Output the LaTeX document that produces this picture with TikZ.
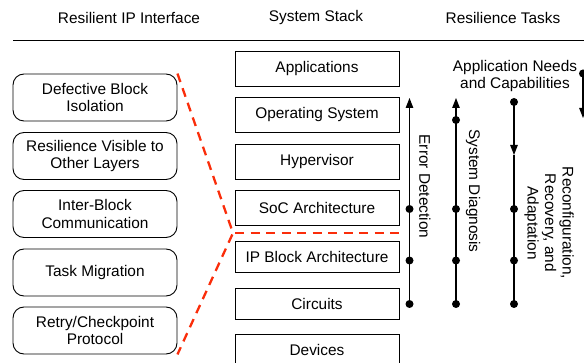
\documentclass[tikz,border=0pt]{standalone}
\usepackage{fontspec}
\setmainfont{Liberation Sans}
\usetikzlibrary{arrows.meta}
\definecolor{cutred}{RGB}{250,45,10}
\tikzset{
  every node/.style={font=\fontsize{15.4}{17.5}\selectfont, inner sep=0pt},
  heading/.style={anchor=center},
  ifbox/.style={draw, rounded corners=11pt, minimum width=164pt, minimum height=47pt,
    align=center, line width=0.9pt},
  layer/.style={draw, minimum width=164pt, line width=0.9pt},
  dot/.style={circle, fill, inner sep=0pt, minimum size=8pt},
  task/.style={line width=1.1pt},
  taskarrow/.style={task, -{Triangle[length=10pt, width=7.5pt]}},
  cut/.style={draw=cutred, line width=2.3pt, dash pattern=on 9pt off 6.5pt},
  tasklabel/.style={rotate=-90, align=center}
}
\begin{document}
\begin{tikzpicture}[x=1pt, y=-1pt]
  \useasboundingbox (0,0) rectangle (584,363);

  % column headings and rule
  \node[heading] (h1) at (129,18) {Resilient IP Interface};
  \node[heading] (h2) at (316,18) {System Stack};
  \node[heading] (h3) at (503,18) {Resilience Tasks};
  \coordinate (ruleL) at (13,40);
  \coordinate (ruleR) at (584,40);
  \draw[line width=0.9pt] (ruleL) -- (ruleR);

  % resilient IP interface features
  \node[ifbox] (if1) at (95,97.5)  {Defective Block\\Isolation};
  \node[ifbox] (if2) at (95,156)   {Resilience Visible to\\Other Layers};
  \node[ifbox] (if3) at (95,214)   {Inter-Block\\Communication};
  \node[ifbox] (if4) at (95,272.5) {Task Migration};
  \node[ifbox] (if5) at (95,330.5) {Retry/Checkpoint\\Protocol};

  % system stack
  \node[layer, minimum height=35pt] (apps) at (317,68.5)  {Applications};
  \node[layer, minimum height=35pt] (os)   at (317,115)   {Operating System};
  \node[layer, minimum height=35pt] (hyp)  at (317,161.5) {Hypervisor};
  \node[layer, minimum height=35pt] (soc)  at (317,208)   {SoC Architecture};
  \node[layer, minimum height=31pt] (ip)   at (317,256.5) {IP Block Architecture};
  \node[layer, minimum height=31pt] (circ) at (317,303.5) {Circuits};
  \node[layer, minimum height=31pt] (dev)  at (317,349.5) {Devices};

  % boundary of the IP block level
  \coordinate (kink) at (233,233);
  \coordinate (cutR) at (399,233);
  \draw[cut] (if1.north east) -- (kink) -- (if5.south east);
  \draw[cut] (235,233) -- (cutR);

  % error detection
  \node[dot] (e1) at (409.5,209) {};
  \node[dot] (e2) at (409.5,260.5) {};
  \node[dot] (e3) at (409.5,304) {};
  \coordinate (etip) at (409.5,98);
  \draw[taskarrow] (e3.center) -- (etip);
  \node[tasklabel] (elab) at (425,186.5) {Error Detection};

  % system diagnosis
  \node[dot] (s0) at (456,120) {};
  \node[dot] (s1) at (456,209) {};
  \node[dot] (s2) at (456,260.5) {};
  \node[dot] (s3) at (456,304) {};
  \coordinate (stip) at (456,98);
  \draw[taskarrow] (s3.center) -- (stip);
  \node[tasklabel] (slab) at (473,191) {System Diagnosis};

  % reconfiguration, recovery and adaptation
  \node (need) at (515,76) [align=center] {Application Needs\\and Capabilities};
  \node[dot] (r0) at (514,102) {};
  \node[dot] (r1) at (514,209) {};
  \node[dot] (r2) at (514,260.5) {};
  \node[dot] (r3) at (514,304) {};
  \coordinate (rtip) at (514,155);
  \draw[taskarrow] (r0.center) -- (rtip);
  \draw[task] (rtip) -- (r3.center);
  \node[tasklabel] (rlab) at (549,223) {Reconfiguration,\\Recovery, and\\Adaptation};

  % next task column, at the right edge
  \node[dot] (n0) at (583,73.5) {};
  \coordinate (ntip) at (583,118);
  \draw[taskarrow] (n0.center) -- (ntip);
\end{tikzpicture}
\end{document}
